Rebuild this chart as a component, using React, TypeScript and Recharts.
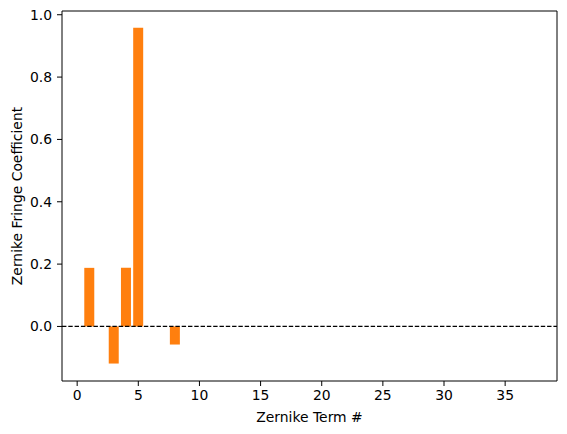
import React from 'react';
import { BarChart, Bar, XAxis, YAxis, ReferenceLine } from 'recharts';

const terms: number[] = Array.from({ length: 37 }, (_, i) => i + 1);
const coefficients: number[] = [
  0.188, 0, -0.119, 0.188, 0.958, 0, 0, -0.058, 0, 0,
  0, 0, 0, 0, 0, 0, 0, 0, 0, 0,
  0, 0, 0, 0, 0, 0, 0, 0, 0, 0,
  0, 0, 0, 0, 0, 0, 0,
];
const xTicks: number[] = [0, 5, 10, 15, 20, 25, 30, 35];
const yTicks: number[] = [0, 0.2, 0.4, 0.6, 0.8, 1.0];
const xDomain: [number, number] = [-1.24, 39.24];
const yDomain: [number, number] = [-0.175, 1.012];

const data = terms.map((t, i) => ({ term: t, value: coefficients[i] }));

const font = { fontFamily: 'DejaVu Sans', fontSize: 13.9, fill: '#000' };

export default function App() {
  return (
    <div style={{ position: 'absolute', left: 0, top: 0, width: 567, height: 434, background: '#fff' }}>
      <BarChart
        width={567}
        height={434}
        data={data}
        margin={{ top: 11, right: 10, bottom: 0, left: 0 }}
        barCategoryGap={0}
      >
        <XAxis
          dataKey="term"
          type="number"
          domain={xDomain}
          ticks={xTicks}
          allowDataOverflow
          tick={font}
          tickSize={5}
          tickMargin={4}
          stroke="#000"
          tickLine={{ stroke: '#000' }}
          axisLine={{ stroke: '#000' }}
          height={53}
          label={{ value: 'Zernike Term #', position: 'insideBottom', offset: 12, style: font }}
        />
        <YAxis
          type="number"
          domain={yDomain}
          ticks={yTicks}
          allowDataOverflow
          tickFormatter={(v: number) => v.toFixed(1)}
          tick={font}
          tickSize={5}
          tickMargin={5}
          stroke="#000"
          tickLine={{ stroke: '#000' }}
          axisLine={{ stroke: '#000' }}
          width={62}
          label={{ value: 'Zernike Fringe Coefficient', angle: -90, position: 'insideLeft', offset: 17, style: { ...font, textAnchor: 'middle' } }}
        />
        <ReferenceLine y={yDomain[1]} stroke="#000" strokeWidth={1} ifOverflow="visible" />
        <ReferenceLine x={xDomain[1]} stroke="#000" strokeWidth={1} ifOverflow="visible" />
        <ReferenceLine y={0} stroke="#000" strokeWidth={1.2} strokeDasharray="4.4 1.9" />
        <Bar dataKey="value" fill="#ff7f0e" barSize={10} isAnimationActive={false} />
      </BarChart>
    </div>
  );
}
